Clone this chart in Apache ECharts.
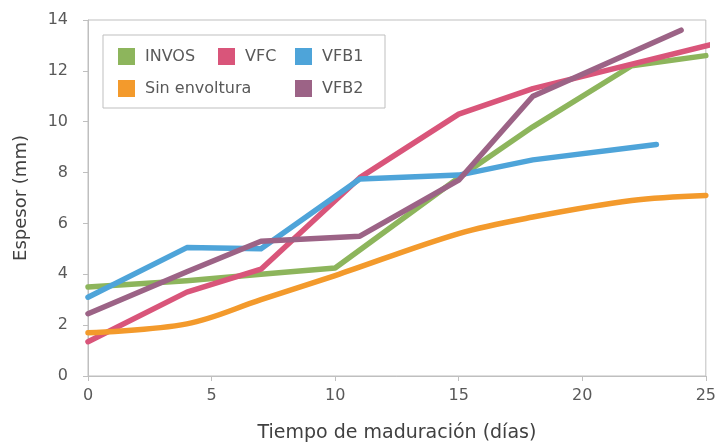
<!DOCTYPE html>
<html>
<head>
<meta charset="utf-8">
<script src="https://cdn.jsdelivr.net/npm/echarts@6/dist/echarts.min.js"></script>
<style>html,body{margin:0;padding:0;background:#fff;}#c{width:719px;height:448px;}</style>
</head>
<body>
<div id="c"></div>
<script>
var seriesNames = ['INVOS', 'VFC', 'VFB1', 'Sin envoltura', 'VFB2'];
var invosX = [0, 4, 7, 10, 15, 18, 22, 25];
var invosY = [3.5, 3.75, 4.0, 4.25, 7.8, 9.8, 12.2, 12.6];
var vfcX = [0, 4, 7, 11, 15, 18, 25.3];
var vfcY = [1.35, 3.3, 4.2, 7.8, 10.3, 11.3, 13.05];
var vfb1X = [0, 4, 7, 11, 15, 18, 23];
var vfb1Y = [3.1, 5.05, 5.0, 7.75, 7.9, 8.5, 9.1];
var sinX = [0, 4, 7, 10, 15, 18, 22, 25];
var sinY = [1.7, 2.05, 3.0, 3.95, 5.6, 6.25, 6.9, 7.1];
var vfb2X = [0, 4, 7, 11, 15, 18, 24];
var vfb2Y = [2.45, 4.1, 5.3, 5.5, 7.7, 11.0, 13.6];
var xTicks = [0, 5, 10, 15, 20, 25];
var yTicks = [0, 2, 4, 6, 8, 10, 12, 14];

var colors = ['#8db55c', '#d9557a', '#4ea4d9', '#f39a2c', '#9c6386'];
function pairs(xs, ys) { return xs.map(function (x, i) { return [x, ys[i]]; }); }
var dataSets = [pairs(invosX, invosY), pairs(vfcX, vfcY), pairs(vfb1X, vfb1Y), pairs(sinX, sinY), pairs(vfb2X, vfb2Y)];

var font = '"DejaVu Sans", sans-serif';
var legendPos = [[118, 48], [218, 48], [295, 48], [118, 80], [295, 80]];
var legends = seriesNames.map(function (n, i) {
  return {
    data: [n], left: legendPos[i][0], top: legendPos[i][1],
    icon: 'rect', itemWidth: 17, itemHeight: 17, itemGap: 0, padding: 0,
    textStyle: { color: '#595959', fontSize: 16, fontFamily: font, padding: [0, 0, 0, 5] },
    selectedMode: false
  };
});

var chart = echarts.init(document.getElementById('c'));
chart.setOption({
  animation: false,
  color: colors,
  grid: { left: 88, right: 10, top: 20, bottom: 69, show: true, borderColor: '#bfbfbf', borderWidth: 1 },
  legend: legends,
  graphic: [{
    type: 'rect', shape: { x: 103, y: 35, width: 282, height: 73 },
    style: { fill: 'none', stroke: '#bfbfbf', lineWidth: 1 }, z: 10
  }],
  xAxis: {
    type: 'value', min: xTicks[0], max: xTicks[xTicks.length - 1], interval: 5,
    name: 'Tiempo de maduración (días)', nameLocation: 'middle', nameGap: 48,
    nameTextStyle: { color: '#404040', fontSize: 19, fontFamily: font },
    axisLine: { lineStyle: { color: '#bfbfbf', width: 1 } },
    axisTick: { show: true, length: 5, lineStyle: { color: '#bfbfbf' } },
    axisLabel: { color: '#595959', fontSize: 16, fontFamily: font, margin: 12 },
    splitLine: { show: false }
  },
  yAxis: {
    type: 'value', min: yTicks[0], max: yTicks[yTicks.length - 1], interval: 2,
    name: 'Espesor (mm)', nameLocation: 'middle', nameGap: 58, nameRotate: 90,
    nameTextStyle: { color: '#404040', fontSize: 18, fontFamily: font },
    axisLine: { show: true, lineStyle: { color: '#bfbfbf', width: 1 } },
    axisTick: { show: true, length: 5, lineStyle: { color: '#bfbfbf' } },
    axisLabel: { color: '#595959', fontSize: 16, fontFamily: font, margin: 20 },
    splitLine: { show: false }
  },
  series: seriesNames.map(function (n, i) {
    return {
      name: n, type: 'line', data: dataSets[i], showSymbol: false, symbol: 'none',
      smooth: i === 3 ? 0.35 : false, clip: false,
      lineStyle: { width: 5.5, color: colors[i], cap: 'round', join: 'round' },
      itemStyle: { color: colors[i] }
    };
  })
});
</script>
</body>
</html>
